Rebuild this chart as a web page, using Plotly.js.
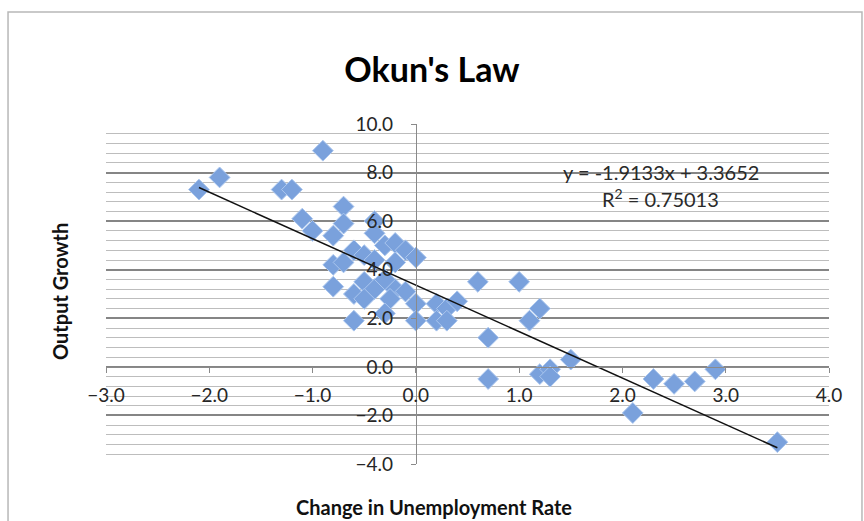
<!DOCTYPE html>
<html>
<head>
<meta charset="utf-8">
<script src="https://cdn.plot.ly/plotly-3.0.1.min.js"></script>
<style>html,body{margin:0;padding:0;background:#fff;} #chart{width:864px;height:521px;}</style>
</head>
<body>
<div id="chart"></div>
<script>
// Change in unemployment rate (x) and output growth (y)
const unemploymentChange = [-2.1, -1.9, -1.3, -1.2, -0.9, -1.1, -1.0, -0.7, -0.7, -0.8,
  -0.4, -0.4, -0.3, -0.2, -0.1, 0.0, -0.6, -0.5, -0.8, -0.7,
  -0.4, -0.2, -0.5, -0.8, -0.4, -0.2, -0.3, -0.1, -0.6, -0.5,
  -0.25, 0.0, -0.6, -0.3, 0.0, 0.2, 0.3, 0.4, 0.2, 0.3,
  0.6, 1.0, 0.7, 0.7, 1.1, 1.2, 1.2, 1.3, 1.3, 1.5,
  2.1, 2.3, 2.5, 2.7, 2.9, 3.5];
const outputGrowth = [7.3, 7.8, 7.3, 7.3, 8.9, 6.1, 5.6, 6.6, 5.9, 5.4,
  6.0, 5.5, 5.0, 5.1, 4.8, 4.5, 4.8, 4.6, 4.2, 4.3,
  4.4, 4.3, 3.5, 3.3, 3.2, 3.2, 3.6, 3.1, 3.0, 2.8,
  2.8, 2.6, 1.9, 2.2, 1.9, 2.6, 2.4, 2.7, 1.9, 1.9,
  3.5, 3.5, 1.2, -0.5, 1.9, 2.4, -0.3, -0.1, -0.4, 0.3,
  -1.9, -0.5, -0.7, -0.6, -0.1, -3.1];

// Trendline coefficients as printed on the chart
const slope = -1.9133;
const intercept = 3.3652;
const rSquared = 0.75013;

const xTicks = [-3, -2, -1, 0, 1, 2, 3, 4];
const yTicks = [-4, -2, 0, 2, 4, 6, 8, 10];

const xMin = Math.min(...unemploymentChange);
const xMax = Math.max(...unemploymentChange);
const trendX = [xMin, xMax];
const trendY = trendX.map(v => slope * v + intercept);

const tickFont = {family: 'Lato, sans-serif', size: 19, color: '#262626'};

const traces = [
  {
    type: 'scatter', mode: 'markers',
    x: unemploymentChange, y: outputGrowth,
    marker: {symbol: 'diamond', size: 16, color: 'rgb(122,161,220)',
             line: {color: 'rgb(170,198,238)', width: 1}},
    hoverinfo: 'x+y', showlegend: false
  },
  {
    type: 'scatter', mode: 'lines',
    x: trendX, y: trendY,
    line: {color: '#111', width: 1.5},
    hoverinfo: 'skip', showlegend: false
  }
];

const layout = {
  width: 864, height: 521,
  margin: {l: 106, r: 35, t: 124, b: 57},
  paper_bgcolor: '#fff', plot_bgcolor: '#fff',
  showlegend: false,
  title: {text: "Okun's Law", x: 0.5, xref: 'container', y: 0.866, yref: 'container', yanchor: 'middle',
          font: {family: 'Lato, sans-serif', size: 34, color: '#000', weight: 700}},
  xaxis: {
    range: [-3, 4], tickvals: xTicks, tickformat: '.1f',
    anchor: 'free', position: 4 / 14,
    showgrid: false, zeroline: false,
    showline: true, linecolor: '#8a8a8a', linewidth: 1,
    ticks: 'outside', ticklen: 5, tickcolor: '#8a8a8a',
    ticklabelstandoff: 6,
    tickfont: tickFont, fixedrange: true
  },
  yaxis: {
    range: [-4, 10], tickvals: yTicks, tickformat: '.1f',
    anchor: 'free', position: 3 / 7,
    showgrid: true, gridcolor: '#858585', gridwidth: 1.8,
    minor: {dtick: 0.4, tick0: 0, showgrid: true, gridcolor: '#bdbdbd', gridwidth: 1.4},
    zeroline: false,
    showline: true, linecolor: '#8a8a8a', linewidth: 1,
    ticks: 'outside', ticklen: 5, tickcolor: '#8a8a8a',
    ticklabelstandoff: 14,
    tickfont: tickFont, fixedrange: true
  },
  annotations: [
    {text: 'Change in Unemployment Rate', xref: 'paper', yref: 'paper', x: 0.4537, y: -0.127,
     xanchor: 'center', yanchor: 'middle', showarrow: false,
     font: {family: 'Lato, sans-serif', size: 20, color: '#111', weight: 700}},
    {text: 'Output Growth', xref: 'paper', yref: 'paper', x: -0.0636, y: 0.506,
     xanchor: 'center', yanchor: 'middle', textangle: -90, showarrow: false,
     font: {family: 'Lato, sans-serif', size: 20, color: '#111', weight: 700}},
    {text: 'y = ' + slope.toFixed(4) + 'x + ' + intercept.toFixed(4), xref: 'x', yref: 'y',
     x: 2.37, y: 8.03, xanchor: 'center', yanchor: 'middle', showarrow: false,
     font: {family: 'Lato, sans-serif', size: 20, color: '#2a2a2a'}},
    {text: 'R<sup>2</sup> = ' + rSquared.toFixed(5), xref: 'x', yref: 'y',
     x: 2.37, y: 6.96, xanchor: 'center', yanchor: 'middle', showarrow: false,
     font: {family: 'Lato, sans-serif', size: 20, color: '#2a2a2a'}}
  ],
  shapes: [
    {type: 'rect', xref: 'paper', yref: 'paper', x0: -0.1355, x1: 1.0456, y0: -0.2, y1: 1.3294,
     line: {color: '#b8b8b8', width: 1.5}, fillcolor: 'rgba(0,0,0,0)', layer: 'below'}
  ]
};

Plotly.newPlot('chart', traces, layout, {displayModeBar: false});
</script>
</body>
</html>
